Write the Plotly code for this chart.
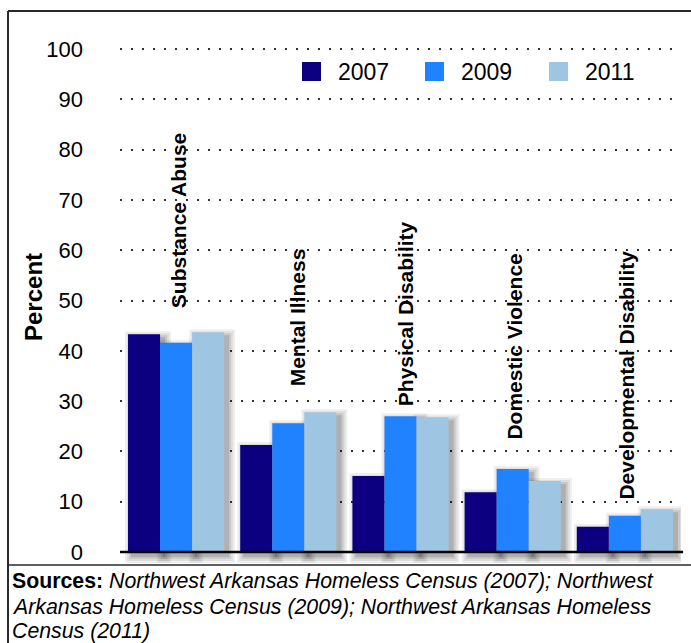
import plotly.graph_objects as go

# ---- data -------------------------------------------------------------
categories = ["Substance Abuse", "Mental Illness", "Physical Disability",
              "Domestic Violence", "Developmental Disability"]
years = ["2007", "2009", "2011"]
pct_2007 = [43.3, 21.3, 15.1, 11.9, 5.0]
pct_2009 = [41.6, 25.6, 27.0, 16.5, 7.2]
pct_2011 = [43.7, 27.8, 26.8, 14.1, 8.5]
series = [pct_2007, pct_2009, pct_2011]
y_ticks = [0, 10, 20, 30, 40, 50, 60, 70, 80, 90, 100]
source_lines = [
    "<b>Sources:</b> <i>Northwest Arkansas Homeless Census (2007); Northwest</i>",
    "<i>Arkansas Homeless Census (2009); Northwest Arkansas Homeless</i>",
    "<i>Census (2011)</i>",
]

# ---- styling / layout constants ----------------------------------------
colors = ["#0c0080", "#2182ff", "#9ec6e2"]
FONT = "Liberation Sans, Arial, Helvetica, sans-serif"
W, H = 691, 643
ML, MR, MT, MB = 120, 10, 39, 78
PW, PH = W - ML - MR, H - MT - MB
Y_RANGE = [-2.58, 101.99]
PX_PER_Y = PH / (Y_RANGE[1] - Y_RANGE[0])
PX_PER_X = PW / 5.0

BAR_W = 32 / 112
offsets = [-1.5 * BAR_W + i * BAR_W for i in range(3)]

# category label placement (bottom of rotated text, data units) and nudge
label_y = [48.0, 32.6, 28.6, 21.9, 10.1]
label_dx = [2, 9, 5, 2, 2]
source_line_py = [581, 607, 631]


def px_x(px):
    return (px - ML) / PW


def px_y(py):
    return (H - MB - py) / PH


x = list(range(len(categories)))
fig = go.Figure()

# soft drop shadow under each bar (several translucent layers)
SH_DX, SH_DY = 4, 4
for grow, op in [(7, 0.06), (5, 0.07), (3, 0.09), (1, 0.12)]:
    for i, vals in enumerate(series):
        top_cut = SH_DY / PX_PER_Y - grow / PX_PER_Y
        bottom = -(SH_DY + grow) / PX_PER_Y
        fig.add_trace(go.Bar(
            x=x,
            y=[v - top_cut - bottom for v in vals],
            base=[bottom] * len(vals),
            width=BAR_W + 2 * grow / PX_PER_X,
            offset=offsets[i] + (SH_DX - grow) / PX_PER_X,
            marker=dict(color="black", line=dict(width=0)),
            opacity=op,
            showlegend=False,
            hoverinfo="skip",
        ))

# the bars themselves
for i, vals in enumerate(series):
    fig.add_trace(go.Bar(
        x=x, y=vals, name=years[i],
        width=BAR_W, offset=offsets[i],
        marker=dict(color=colors[i], line=dict(width=0)),
        showlegend=False,
    ))

annotations = []
# rotated category labels
for i, cat in enumerate(categories):
    annotations.append(dict(
        x=i, y=label_y[i], xref="x", yref="y", text="<b>%s</b>" % cat,
        textangle=-90, xanchor="center", yanchor="bottom", showarrow=False,
        xshift=label_dx[i], font=dict(family=FONT, size=21, color="black"),
    ))

# y axis title
annotations.append(dict(
    x=px_x(33), y=px_y(297), xref="paper", yref="paper", text="<b>Percent</b>",
    textangle=-90, xanchor="center", yanchor="middle", showarrow=False,
    font=dict(family=FONT, size=24, color="black"),
))

# legend (square swatch + year)
shapes = []
leg_x = [302, 425, 549]
for i, yr in enumerate(years):
    shapes.append(dict(
        type="rect", xref="paper", yref="paper",
        x0=px_x(leg_x[i]), x1=px_x(leg_x[i] + 19),
        y0=px_y(81), y1=px_y(62),
        fillcolor=colors[i], line=dict(width=0), layer="above",
    ))
    annotations.append(dict(
        x=px_x(leg_x[i] + 34), y=px_y(71.5), xref="paper", yref="paper",
        text=yr, xanchor="left", yanchor="middle", showarrow=False,
        font=dict(family=FONT, size=23, color="black"),
    ))

# source note, one annotation per line for tight spacing
for line, py in zip(source_lines, source_line_py):
    annotations.append(dict(
        x=px_x(10), y=px_y(py), xref="paper", yref="paper",
        xanchor="left", yanchor="middle", align="left", showarrow=False,
        text=line, font=dict(family=FONT, size=21.3, color="black"),
    ))

# baseline
shapes.append(dict(type="line", xref="x domain", yref="y",
                   x0=0, x1=px_x(683), y0=0, y1=0,
                   line=dict(color="black", width=2.5), layer="above"))
# frame around the figure and rule above the source note
FRAME = "#2a2a2a"
shapes.append(dict(type="line", xref="paper", yref="paper",
                   x0=px_x(8), x1=px_x(W + 5), y0=px_y(11), y1=px_y(11),
                   line=dict(color=FRAME, width=2)))
shapes.append(dict(type="line", xref="paper", yref="paper",
                   x0=px_x(8), x1=px_x(8), y0=px_y(11), y1=px_y(H + 5),
                   line=dict(color=FRAME, width=2)))
shapes.append(dict(type="line", xref="paper", yref="paper",
                   x0=px_x(8), x1=px_x(W + 5), y0=px_y(565), y1=px_y(565),
                   line=dict(color=FRAME, width=1.5)))

fig.update_layout(
    width=W, height=H,
    margin=dict(l=ML, r=MR, t=MT, b=MB, pad=0),
    paper_bgcolor="white", plot_bgcolor="white",
    barmode="overlay",
    showlegend=False,
    annotations=annotations,
    shapes=shapes,
    font=dict(family=FONT, color="black"),
)
fig.update_xaxes(range=[-0.5, 4.5], showticklabels=False, showgrid=False,
                 zeroline=False, showline=False, ticks="")
fig.update_yaxes(range=Y_RANGE, tickvals=y_ticks, ticks="", ticklabelstandoff=36,
                 tickfont=dict(family=FONT, size=22, color="black"),
                 showgrid=True, gridcolor="#333333", gridwidth=2, griddash="2px,9px",
                 zeroline=False, showline=False)

fig.write_html("out.html")
